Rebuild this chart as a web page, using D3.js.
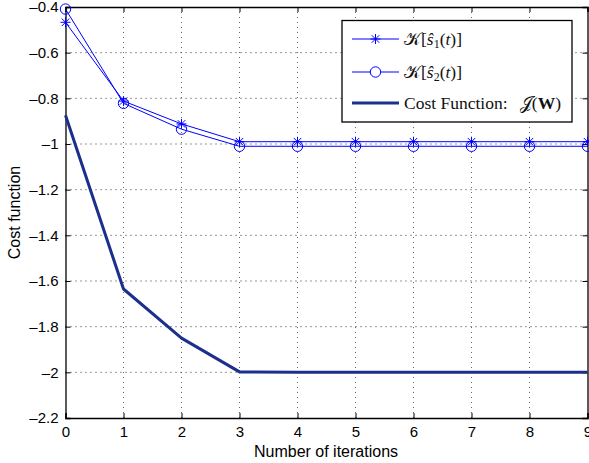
<!DOCTYPE html>
<html>
<head>
<meta charset="utf-8">
<script src="https://cdn.jsdelivr.net/npm/d3@7"></script>
<style>
  html, body { margin: 0; padding: 0; background: #fff; }
  svg { display: block; }
  .tick-label { font-family: "Liberation Sans", Arial, Helvetica, sans-serif; font-size: 15px; fill: #000; }
  .axis-title { font-family: "Liberation Sans", Arial, Helvetica, sans-serif; font-size: 16px; fill: #000; }
  .legend-text { font-family: "Liberation Serif", "DejaVu Serif", serif; font-size: 17.5px; fill: #111; }
</style>
</head>
<body>
<svg id="chart" width="589" height="463"></svg>
<script>
// Iteration index along the x axis
const iterations = [0, 1, 2, 3, 4, 5, 6, 7, 8, 9];
// Contrast values of the two separated sources
const kurtS1 = [-0.467, -0.812, -0.912, -0.99, -0.99, -0.99, -0.99, -0.99, -0.99, -0.99];
const kurtS2 = [-0.409, -0.822, -0.935, -1.01, -1.01, -1.01, -1.01, -1.01, -1.01, -1.01];
// Overall cost function J(W)
const costJ = [-0.874, -1.635, -1.85, -1.998, -2.0, -2.0, -2.0, -2.0, -2.0, -2.0];
// Axis ticks
const xTicks = [0, 1, 2, 3, 4, 5, 6, 7, 8, 9];
const yTicks = [-0.4, -0.6, -0.8, -1, -1.2, -1.4, -1.6, -1.8, -2, -2.2];

const svg = d3.select("#chart");
const plot = { left: 65.5, right: 587.5, top: 7, bottom: 418 };

const x = d3.scaleLinear().domain([0, 9]).range([plot.left, plot.right]);
const y = d3.scaleLinear().domain([-2.2, -0.4]).range([plot.bottom, plot.top]);

const fmt = v => (v < 0 ? "\u2013" : "") + String(Math.abs(v));

// Dotted grid
const grid = svg.append("g");
grid.selectAll("line.gx").data(xTicks.slice(1, -1)).join("line")
  .attr("x1", d => x(d)).attr("x2", d => x(d))
  .attr("y1", plot.top).attr("y2", plot.bottom)
  .attr("stroke", "#666").attr("stroke-width", 1).attr("stroke-dasharray", "1,4");
grid.selectAll("line.gy").data(yTicks.slice(1, -1)).join("line")
  .attr("x1", plot.left).attr("x2", plot.right)
  .attr("y1", d => y(d)).attr("y2", d => y(d))
  .attr("stroke", "#333").attr("stroke-width", 1).attr("stroke-dasharray", "1,4");

// Axes with inward ticks on all sides
const axB = svg.append("g").attr("transform", `translate(0,${plot.bottom})`)
  .call(d3.axisBottom(x).tickValues(xTicks).tickSize(-5).tickPadding(8).tickFormat(d3.format("d")));
const axT = svg.append("g").attr("transform", `translate(0,${plot.top})`)
  .call(d3.axisTop(x).tickValues(xTicks).tickSize(-5).tickFormat(""));
const axL = svg.append("g").attr("transform", `translate(${plot.left},0)`)
  .call(d3.axisLeft(y).tickValues(yTicks).tickSize(-5).tickPadding(7).tickFormat(fmt));
const axR = svg.append("g").attr("transform", `translate(${plot.right},0)`)
  .call(d3.axisRight(y).tickValues(yTicks).tickSize(-5).tickFormat(""));
[axB, axT, axL, axR].forEach(g => {
  g.select(".domain").attr("stroke", "#000").attr("stroke-width", 1.3);
  g.selectAll(".tick line").attr("stroke", "#000");
  g.selectAll(".tick text").attr("class", "tick-label").attr("font-size", null).attr("font-family", null);
});

// Series
const line = d3.line().x((d, i) => x(iterations[i])).y(d => y(d));
const blue = "#0000ff";
const navy = "#1c2f8c";

svg.append("path").datum(kurtS1).attr("d", line)
  .attr("fill", "none").attr("stroke", blue).attr("stroke-width", 1);
svg.append("path").datum(kurtS2).attr("d", line)
  .attr("fill", "none").attr("stroke", blue).attr("stroke-width", 1);
svg.append("path").datum(costJ).attr("d", line)
  .attr("fill", "none").attr("stroke", navy).attr("stroke-width", 3).attr("stroke-linejoin", "round");

// Star marker (MATLAB '*')
function star(g, cx, cy, r) {
  const s = g.append("g").attr("transform", `translate(${cx},${cy})`)
    .attr("stroke", blue).attr("stroke-width", 1);
  s.append("line").attr("x1", 0).attr("x2", 0).attr("y1", -r).attr("y2", r);
  s.append("line").attr("x1", -r).attr("x2", r).attr("y1", 0).attr("y2", 0);
  const k = r * 0.75;
  s.append("line").attr("x1", -k).attr("x2", k).attr("y1", -k).attr("y2", k);
  s.append("line").attr("x1", -k).attr("x2", k).attr("y1", k).attr("y2", -k);
}
const marks = svg.append("g");
kurtS1.forEach((v, i) => star(marks, x(iterations[i]), y(v), 5));
marks.selectAll("circle").data(kurtS2).join("circle")
  .attr("cx", (d, i) => x(iterations[i])).attr("cy", d => y(d)).attr("r", 5.2)
  .attr("fill", "none").attr("stroke", blue).attr("stroke-width", 1);

// Axis titles
svg.append("text").attr("class", "axis-title")
  .attr("x", 326).attr("y", 457).attr("text-anchor", "middle")
  .text("Number of iterations");
svg.append("text").attr("class", "axis-title")
  .attr("transform", `translate(20,${(plot.top + plot.bottom) / 2}) rotate(-90)`)
  .attr("text-anchor", "middle").text("Cost function");

// Legend
const lg = svg.append("g");
lg.append("rect").attr("x", 342).attr("y", 20.5).attr("width", 230).attr("height", 101.5)
  .attr("fill", "#fff").attr("stroke", "#000").attr("stroke-width", 1.3);
const rows = [39, 72, 103];
const lx1 = 352, lx2 = 399, lmid = 375.5;
lg.append("line").attr("x1", lx1).attr("x2", lx2).attr("y1", rows[0]).attr("y2", rows[0])
  .attr("stroke", blue).attr("stroke-width", 1);
star(lg, lmid, rows[0], 5);
lg.append("line").attr("x1", lx1).attr("x2", lx2).attr("y1", rows[1]).attr("y2", rows[1])
  .attr("stroke", blue).attr("stroke-width", 1);
lg.append("circle").attr("cx", lmid).attr("cy", rows[1]).attr("r", 5.2).attr("fill", "#fff").attr("stroke", blue);
lg.append("line").attr("x1", lx1).attr("x2", lx2).attr("y1", rows[2]).attr("y2", rows[2])
  .attr("stroke", navy).attr("stroke-width", 3);

function kLabel(yy, sub) {
  const t = lg.append("text").attr("class", "legend-text").attr("x", 404).attr("y", yy + 6);
  t.append("tspan").text("\uD835\uDCA6[");
  t.append("tspan").attr("font-style", "italic").text("\u015D");
  t.append("tspan").attr("font-size", "12px").attr("dy", 3).text(sub);
  t.append("tspan").attr("dy", -3).text("(");
  t.append("tspan").attr("font-style", "italic").text("t");
  t.append("tspan").text(")]");
}
kLabel(rows[0], "1");
kLabel(rows[1], "2");
const ct = lg.append("text").attr("class", "legend-text").attr("x", 404).attr("y", rows[2] + 6);
ct.append("tspan").text("Cost Function:\u2002\u2009\uD835\uDCA5(");
ct.append("tspan").attr("font-weight", "bold").text("W");
ct.append("tspan").text(")");
</script>
</body>
</html>
